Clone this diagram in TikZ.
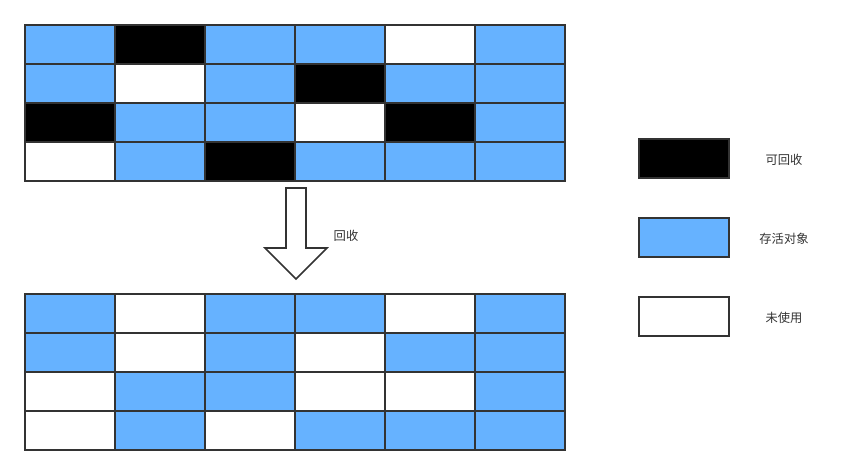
\documentclass[tikz,border=0pt]{standalone}
\usepackage{fontspec}
\newfontfamily\cjk{Noto Sans CJK SC}
\definecolor{live}{HTML}{66B2FF}
\definecolor{edge}{HTML}{333333}
\tikzset{
  cell/.style={draw=edge,line width=1.6pt},
  lbl/.style={font=\cjk\fontsize{10.5}{12}\selectfont,text=edge}
}

\begin{document}
\begin{tikzpicture}[x=0.03cm,y=-0.03cm]
    \useasboundingbox (0,0) rectangle (863,475);

    % heap before collection
    \foreach \r/\row in {0/{live,black,live,live,white,live},
                         1/{live,white,live,black,live,live},
                         2/{black,live,live,white,black,live},
                         3/{white,live,black,live,live,live}}
      \foreach \c [count=\i from 0] in \row
        \draw[cell,fill=\c] ({25+90*\i},{25+39*\r}) rectangle +(90,39);

    % heap after collection
    \foreach \r/\row in {0/{live,white,live,live,white,live},
                         1/{live,white,live,white,live,live},
                         2/{white,live,live,white,white,live},
                         3/{white,live,white,live,live,live}}
      \foreach \c [count=\i from 0] in \row
        \draw[cell,fill=\c] ({25+90*\i},{294+39*\r}) rectangle +(90,39);

    % arrow
    \draw[edge,line width=1.4pt,fill=white] (286,188) -- (306,188) -- (306,248)
        -- (327,248) -- (296,279) -- (265,248) -- (286,248) -- cycle;
    \node[lbl] (gc) at (346,236) {回收};

    % legend
    \draw[cell,fill=black] (639,139) rectangle (729,178);
    \node[lbl] (dead) at (784,160) {可回收};
    \draw[cell,fill=live]  (639,218) rectangle (729,257);
    \node[lbl] (alive) at (784,239) {存活对象};
    \draw[cell,fill=white] (639,297) rectangle (729,336);
    \node[lbl] (free) at (784,318) {未使用};
\end{tikzpicture}
\end{document}
